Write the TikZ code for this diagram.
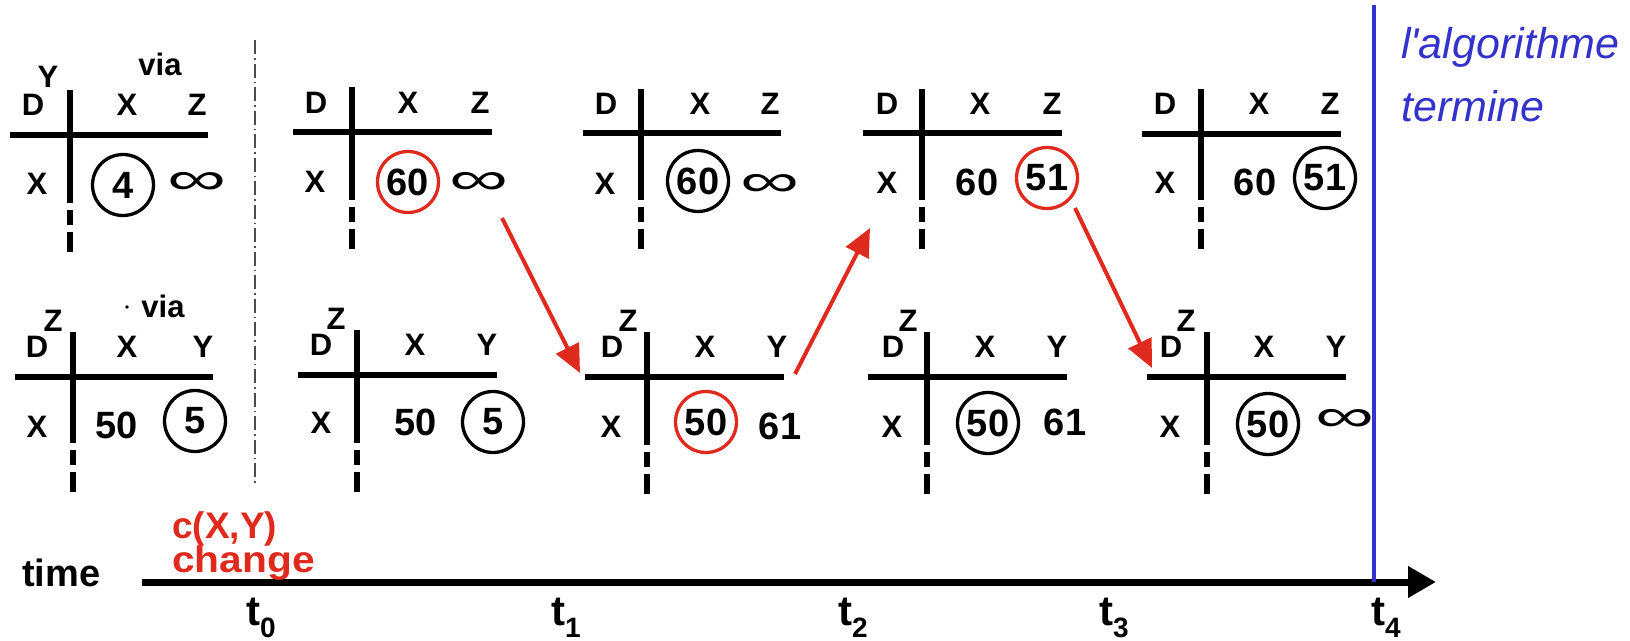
\documentclass[tikz,border=0pt]{standalone}
\usepackage{fontspec}
\setmainfont{Liberation Sans}
\usetikzlibrary{arrows.meta}
\definecolor{myred}{RGB}{224,42,30}
\definecolor{myblue}{RGB}{51,51,204}
\tikzset{
  lt/.style={inner sep=0pt, font=\fontsize{31}{31}\selectfont\bfseries},
  num/.style={inner sep=0pt, font=\fontsize{38}{38}\selectfont\bfseries},
  cir/.style={num, circle, draw, line width=3.3pt, minimum size=61pt},
  rcir/.style={cir, draw=myred},
  inf/.style={inner sep=0pt, anchor=base, font=\fontsize{46}{46}\selectfont},
  tline/.style={line width=5.5pt},
  tdash/.style={line width=5.5pt, dash pattern=on 15pt off 7pt on 20pt off 200pt},
  redarr/.style={draw=myred, line width=4pt, -{Triangle[length=28pt,width=25pt]}},
  axisarr/.style={line width=7pt, -{Triangle[length=28pt,width=30pt]}},
  tlab/.style={inner sep=0pt, anchor=base west, font=\fontsize{42}{42}\selectfont\bfseries},
  timetxt/.style={inner sep=0pt, anchor=base west, font=\fontsize{38}{38}\selectfont\bfseries},
  bluetxt/.style={inner sep=0pt, anchor=base west, text=myblue, font=\fontsize{43}{43}\selectfont\itshape},
  redtxt/.style={inner sep=0pt, anchor=base west, text=myred, font=\fontsize{37}{37}\selectfont\bfseries},
  viatxt/.style={lt, anchor=base},
}
\newcommand\tgrid[6]{% vx, hy, x0, x1, vtop, vbot
  \draw[tline] (#3,#2) -- (#4,#2);
  \draw[tline] (#1,#5) -- (#1,#6);
  \draw[tdash] (#1,{#6+7}) -- (#1,{#6+49});
}
\newcommand\tsub[1]{t\raisebox{-12pt}{\fontsize{28}{28}\selectfont #1}}
\newcommand\infsym{\scalebox{1.8}[1]{∞}}
\begin{document}
\begin{tikzpicture}[x=1pt,y=-1pt]
\useasboundingbox (0,0) rectangle (1630,640);

% separator
\draw[gray!60!black, line width=1.2pt, dash pattern=on 14pt off 4pt on 1.5pt off 4pt] (255,40) -- (255,485);

% ---------- top row ----------
\tgrid{70}{135}{10}{208}{90}{203}
\node[lt] (a1D) at (33,105) {D};
\node[lt] (a1Ys) at (48,77) {Y};
\node[viatxt] (a1via) at (160,75) {via};
\node[lt] (a1X) at (127,105) {X};
\node[lt] (a1Z) at (197,105) {Z};
\node[lt] (a1r) at (37,184) {X};
\node[cir] (a1c) at (123,185) {4};
\node[inf] (a1i) at (197,194) {\infsym};

\tgrid{352}{132}{293}{492}{87}{200}
\node[lt] (a2D) at (316,103) {D};
\node[lt] (a2X) at (408,103) {X};
\node[lt] (a2Z) at (480,103) {Z};
\node[lt] (a2r) at (315,182) {X};
\node[rcir] (a2c) at (408,182) {60};
\node[inf] (a2i) at (479,194) {\infsym};

\tgrid{641}{133}{583}{781}{89}{200}
\node[lt] (a3D) at (606,104) {D};
\node[lt] (a3X) at (700,104) {X};
\node[lt] (a3Z) at (770,104) {Z};
\node[lt] (a3r) at (605,184) {X};
\node[cir] (a3c) at (698,181) {60};
\node[inf] (a3i) at (770,196) {\infsym};

\tgrid{922}{133}{863}{1062}{89}{200}
\node[lt] (a4D) at (887,104) {D};
\node[lt] (a4X) at (980,104) {X};
\node[lt] (a4Z) at (1052,104) {Z};
\node[lt] (a4r) at (887,183) {X};
\node[num] (a4n) at (977,182) {60};
\node[rcir] (a4c) at (1047,178) {51};

\tgrid{1201}{134}{1142}{1341}{89}{200}
\node[lt] (a5D) at (1165,104) {D};
\node[lt] (a5X) at (1259,104) {X};
\node[lt] (a5Z) at (1330,104) {Z};
\node[lt] (a5r) at (1165,183) {X};
\node[num] (a5n) at (1255,182) {60};
\node[cir] (a5c) at (1325,178) {51};

% ---------- bottom row ----------
\tgrid{73}{377}{15}{213}{332}{443}
\node[lt] (b1D) at (37,347) {D};
\node[lt] (b1Zs) at (53,321) {Z};
\fill (127,307) circle (1.8pt);
\node[viatxt] (b1via) at (163,317) {via};
\node[lt] (b1X) at (127,347) {X};
\node[lt] (b1Y) at (203,347) {Y};
\node[lt] (b1r) at (37,427) {X};
\node[num] (b1n) at (117,425) {50};
\node[cir] (b1c) at (195,421) {5};

\tgrid{357}{375}{298}{497}{330}{443}
\node[lt] (b2D) at (321,345) {D};
\node[lt] (b2Zs) at (336,319) {Z};
\node[lt] (b2X) at (415,345) {X};
\node[lt] (b2Y) at (487,345) {Y};
\node[lt] (b2r) at (321,423) {X};
\node[num] (b2n) at (416,422) {50};
\node[cir] (b2c) at (493,422) {5};

\tgrid{647}{377}{585}{784}{332}{445}
\node[lt] (b3D) at (612,347) {D};
\node[lt] (b3Zs) at (628,321) {Z};
\node[lt] (b3X) at (705,347) {X};
\node[lt] (b3Y) at (777,347) {Y};
\node[lt] (b3r) at (611,427) {X};
\node[rcir] (b3c) at (706,422) {50};
\node[num] (b3n) at (780,426) {61};

\tgrid{927}{377}{868}{1067}{332}{445}
\node[lt] (b4D) at (893,347) {D};
\node[lt] (b4Zs) at (908,321) {Z};
\node[lt] (b4X) at (985,347) {X};
\node[lt] (b4Y) at (1057,347) {Y};
\node[lt] (b4r) at (892,427) {X};
\node[cir] (b4c) at (988,423) {50};
\node[num] (b4n) at (1065,422) {61};

\tgrid{1207}{377}{1147}{1346}{332}{445}
\node[lt] (b5D) at (1171,347) {D};
\node[lt] (b5Zs) at (1186,321) {Z};
\node[lt] (b5X) at (1264,347) {X};
\node[lt] (b5Y) at (1336,347) {Y};
\node[lt] (b5r) at (1170,427) {X};
\node[cir] (b5c) at (1268,424) {50};
\node[inf] (b5i) at (1345,431) {\infsym};

% ---------- red arrows ----------
\coordinate (r1s) at (502,218); \coordinate (r1e) at (580,373);
\coordinate (r2s) at (795,374); \coordinate (r2e) at (870,228);
\coordinate (r3s) at (1075,208); \coordinate (r3e) at (1152,368);
\draw[redarr] (r1s) -- (r1e);
\draw[redarr] (r2s) -- (r2e);
\draw[redarr] (r3s) -- (r3e);

% ---------- time axis ----------
\coordinate (ax0) at (142,582);
\coordinate (ax1) at (1436,582);
\draw[axisarr] (ax0) -- (ax1);
\coordinate (bl0) at (1374,5);
\coordinate (bl1) at (1374,582);
\draw[myblue, line width=4pt] (bl0) -- (bl1);

\node[timetxt] (time) at (22,586) {time};
\node[tlab] (t0) at (246,625) {\tsub{0}};
\node[tlab] (t1) at (551,625) {\tsub{1}};
\node[tlab] (t2) at (838,625) {\tsub{2}};
\node[tlab] (t3) at (1099,625) {\tsub{3}};
\node[tlab] (t4) at (1371,625) {\tsub{4}};

\node[redtxt] (cxy) at (172,538) {c(X,Y)};
\node[redtxt] (chg) at (172,572) {\scalebox{1.1}[1]{change}};

\node[bluetxt] (alg) at (1401,58) {l\textquotesingle algorithme};
\node[bluetxt] (term) at (1401,121) {termine};
\end{tikzpicture}
\end{document}
